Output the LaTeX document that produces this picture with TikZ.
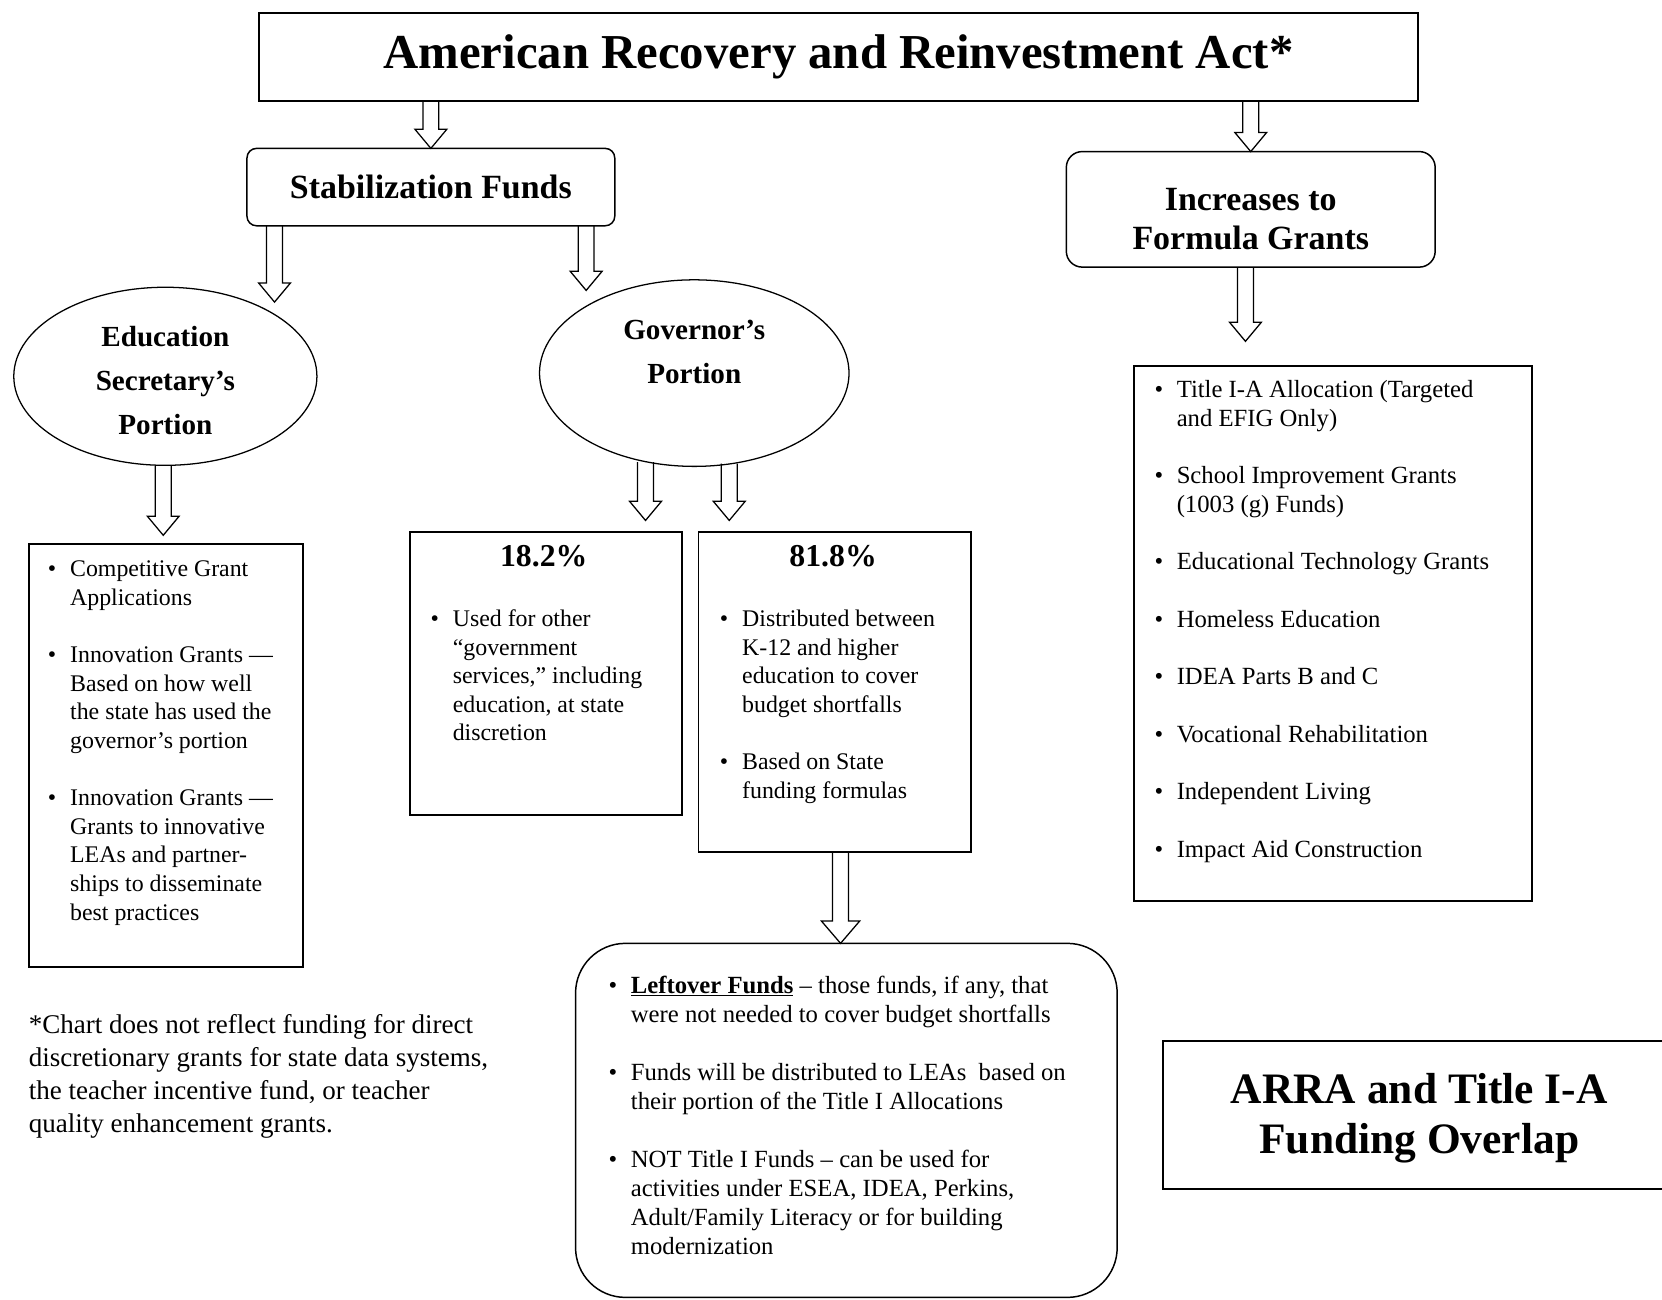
\documentclass[tikz,border=0pt]{standalone}
\usepackage{fontspec}
\setmainfont{Liberation Serif}
\usetikzlibrary{calc,shapes.geometric}
\newcommand\barrowhw{15pt}
\newcommand\barrowhl{18pt}
\newcommand\barrow[2]{%
  \draw[arrline] let \p1=#1, \p2=#2 in
    (\x1-7.5pt,\y1) -- (\x1-7.5pt,\y2+\barrowhl) -- (\x1-\barrowhw,\y2+\barrowhl) -- (\x1,\y2)
    -- (\x1+\barrowhw,\y2+\barrowhl) -- (\x1+7.5pt,\y2+\barrowhl) -- (\x1+7.5pt,\y1);}
\newcommand\bl{\makebox[21pt][l]{\textbullet}}
\begin{document}
\begin{tikzpicture}[x=1pt,y=-1pt,
  sqbox/.style={draw, line width=1.8pt, inner sep=0pt, outer sep=0pt},
  rbox/.style={draw, line width=1.4pt, inner sep=0pt, outer sep=0pt, rounded corners=#1},
  oval/.style={draw, ellipse, line width=1.2pt, inner sep=0pt, outer sep=0pt},
  arrline/.style={line width=1.2pt, line join=miter},
  lbl/.style={inner sep=0pt, align=center},
  listtxt/.style={inner sep=0pt, anchor=base west}]
\useasboundingbox (0,0) rectangle (1568,1226);

% boxes
\node[sqbox, minimum width=1094pt, minimum height=83pt, font=\fontsize{46}{50}\selectfont\bfseries] (title) at (791,53.5) {American Recovery and Reinvestment Act*};
\node[rbox=9pt, minimum width=347pt, minimum height=73pt, font=\fontsize{32}{37}\selectfont\bfseries] (stab) at (406.5,176.5) {Stabilization Funds};
\node[rbox=15pt, minimum width=348pt, minimum height=109pt] (incr) at (1180,197.5) {};
\node[lbl, font=\fontsize{32}{37}\selectfont\bfseries] (incrt) at (1180,207) {Increases to\\Formula Grants};

\node[oval, minimum width=286pt, minimum height=168pt] (edu) at (156,355) {};
\node[lbl, font=\fontsize{27.5}{41.5}\selectfont\bfseries] (edut) at (156,359) {Education\\Secretary’s\\Portion};
\node[oval, minimum width=292pt, minimum height=176pt] (gov) at (655,352) {};
\node[lbl, font=\fontsize{27.5}{41}\selectfont\bfseries] (govt) at (655,332) {Governor’s\\Portion};

\node[sqbox, minimum width=259pt, minimum height=399pt] (edubox) at (156.5,712.5) {};
\node[sqbox, minimum width=256pt, minimum height=267pt] (b18) at (515,635.5) {};
\node[sqbox, minimum width=257pt, minimum height=302pt] (b81) at (787.5,653) {};
\node[sqbox, minimum width=375pt, minimum height=505pt] (rlist) at (1257.5,597.5) {};
\node[rbox=47pt, minimum width=511pt, minimum height=334pt] (left) at (798.5,1057) {};
\node[sqbox, minimum width=483pt, minimum height=140pt] (arra) at (1338.5,1052) {};
\node[lbl, font=\fontsize{41}{48}\selectfont\bfseries] (arrat) at (1339,1055) {ARRA and Title I-A\\Funding Overlap};

% percent headings
\node[lbl, font=\fontsize{30}{34}\selectfont\bfseries] (p18) at (513,525) {18.2\%};
\node[lbl, font=\fontsize{30}{34}\selectfont\bfseries] (p81) at (786,525) {81.8\%};

% lists
\node[listtxt, font=\fontsize{22.5}{27}\selectfont] (edul) at (45,544) {%
\begin{tabular}[t]{@{}l@{}l@{}}
\bl & Competitive Grant\\
 & Applications\\
 & \\
\bl & Innovation Grants —\\
 & Based on how well\\
 & the state has used the\\
 & governor’s portion\\
 & \\
\bl & Innovation Grants —\\
 & Grants to innovative\\
 & LEAs and partner-\\
 & ships to disseminate\\
 & best practices
\end{tabular}};

\node[listtxt, font=\fontsize{22.5}{27}\selectfont] (l18) at (406,591) {%
\begin{tabular}[t]{@{}l@{}l@{}}
\bl & Used for other\\
 & “government\\
 & services,” including\\
 & education, at state\\
 & discretion
\end{tabular}};

\node[listtxt, font=\fontsize{22.5}{27}\selectfont] (l81) at (679,591) {%
\begin{tabular}[t]{@{}l@{}l@{}}
\bl & Distributed between\\
 & K-12 and higher\\
 & education to cover\\
 & budget shortfalls\\
 & \\
\bl & Based on State\\
 & funding formulas
\end{tabular}};

\node[listtxt, font=\fontsize{23.3}{27.1}\selectfont] (rl) at (1089,375) {%
\begin{tabular}[t]{@{}l@{}l@{}}
\bl & Title I-A Allocation (Targeted\\
 & and EFIG Only)\\
 & \\
\bl & School Improvement Grants\\
 & (1003 (g) Funds)\\
 & \\
\bl & Educational Technology Grants\\
 & \\
\bl & Homeless Education\\
 & \\
\bl & IDEA Parts B and C\\
 & \\
\bl & Vocational Rehabilitation\\
 & \\
\bl & Independent Living\\
 & \\
\bl & Impact Aid Construction
\end{tabular}};

\node[listtxt, font=\fontsize{23.3}{27.4}\selectfont] (ll) at (574,937) {%
\begin{tabular}[t]{@{}l@{}l@{}}
\bl & \underline{\textbf{Leftover Funds}} – those funds, if any, that\\
 & were not needed to cover budget shortfalls\\
 & \\
\bl & Funds will be distributed to LEAs\ \ based on\\
 & their portion of the Title I Allocations\\
 & \\
\bl & NOT Title I Funds – can be used for\\
 & activities under ESEA, IDEA, Perkins,\\
 & Adult/Family Literacy or for building\\
 & modernization
\end{tabular}};

\node[listtxt, font=\fontsize{25.5}{31.3}\selectfont] (foot) at (27,975) {%
\begin{tabular}[t]{@{}l@{}}
*Chart does not reflect funding for direct\\
discretionary grants for state data systems,\\
the teacher incentive fund, or teacher\\
quality enhancement grants.
\end{tabular}};

% arrow tips
\coordinate (tipA) at (259,285);
\coordinate (tipB) at (553,274);
\coordinate (tipC) at (154,505);
\coordinate (tipD) at (609,491);
\coordinate (tipE) at (688,491);
\coordinate (tipF) at (793,890);
\coordinate (tipG) at (1175,322);

% block arrows
\barrow{(stab.north |- title.south)}{(stab.north)}
\barrow{(incr.north |- title.south)}{(incr.north)}
\barrow{(tipA |- stab.south)}{(tipA)}
\barrow{(tipB |- stab.south)}{(tipB)}
\barrow{(tipC |- edu.south)}{(tipC)}
\barrow{($(tipD |- gov.south)+(0,-4)$)}{(tipD)}
\barrow{($(tipE |- gov.south)+(0,-2.5)$)}{(tipE)}
\barrow{(tipG |- incr.south)}{(tipG)}
\renewcommand\barrowhw{18pt}
\renewcommand\barrowhl{21pt}
\barrow{(tipF |- b81.south)}{(tipF)}
\end{tikzpicture}
\end{document}
